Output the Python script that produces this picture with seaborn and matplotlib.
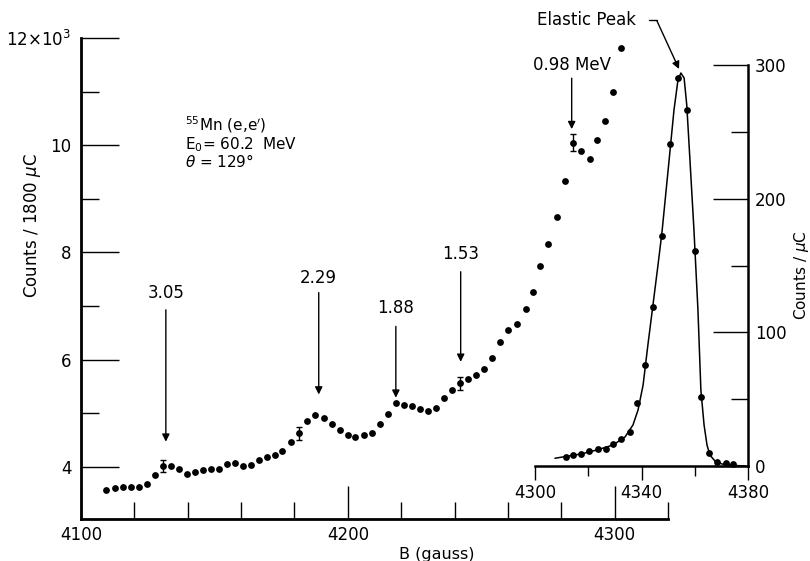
import matplotlib.pyplot as plt
import seaborn as sns
from matplotlib.ticker import MultipleLocator
from matplotlib.lines import Line2D

# main spectrum: magnetic field (gauss) and counts per 1800 uC (in thousands)
main_b = [4109.4, 4112.7, 4115.6, 4118.6, 4121.7, 4124.8, 4127.7, 4130.8, 4133.6, 4136.7,
          4139.7, 4142.8, 4145.8, 4148.7, 4151.6, 4154.7, 4157.7, 4160.7, 4163.7, 4166.8,
          4169.8, 4172.7, 4175.5, 4178.7, 4181.6, 4184.8, 4187.8, 4190.9, 4193.9, 4196.9,
          4199.9, 4202.7, 4205.9, 4209.1, 4212.1, 4215.1, 4218.0, 4221.0, 4224.0, 4227.0,
          4230.1, 4233.1, 4236.2, 4239.2, 4241.9, 4245.2, 4247.9, 4250.9, 4254.0, 4257.2,
          4260.2, 4263.3, 4266.6, 4269.3, 4272.2, 4275.0, 4278.3, 4281.4, 4284.4, 4287.5,
          4290.7, 4293.3, 4296.4, 4299.3, 4302.4]
main_counts = [3.56, 3.60, 3.63, 3.62, 3.63, 3.69, 3.84, 4.01, 4.01, 3.96,
               3.875, 3.91, 3.94, 3.96, 3.96, 4.06, 4.08, 4.02, 4.03, 4.12,
               4.18, 4.23, 4.29, 4.46, 4.63, 4.85, 4.97, 4.91, 4.80, 4.69,
               4.59, 4.55, 4.60, 4.64, 4.80, 4.98, 5.19, 5.16, 5.13, 5.08,
               5.04, 5.09, 5.28, 5.44, 5.56, 5.64, 5.72, 5.82, 6.04, 6.33,
               6.56, 6.67, 6.95, 7.26, 7.75, 8.16, 8.66, 9.34, 10.05, 9.90,
               9.75, 10.10, 10.46, 11.00, 11.82]

# points shown with error bars
err_b = [4130.8, 4181.6, 4241.9, 4284.4]
err_counts = [4.01, 4.63, 5.56, 10.05]
err_size = [0.11, 0.12, 0.12, 0.16]

# excitation energy markers (MeV)
level_labels = ["3.05", "2.29", "1.88", "1.53", "0.98 MeV"]
level_b = [4131.8, 4189.1, 4218.0, 4242.3, 4283.9]
level_tip = [4.47, 5.35, 5.29, 5.96, 10.30]
level_tail = [6.93, 7.25, 6.62, 7.64, 11.25]
level_text = [7.07, 7.36, 6.79, 7.81, 11.33]

# elastic peak inset: counts per uC
peak_b = [4311.5, 4314.3, 4317.3, 4320.4, 4323.5, 4326.6, 4329.3, 4332.4, 4335.6, 4338.3,
          4341.3, 4344.4, 4347.6, 4350.7, 4353.8, 4357.0, 4360.1, 4362.5, 4365.5, 4368.4,
          4371.6, 4374.5]
peak_counts = [6.7, 8.0, 9.0, 11.2, 12.7, 12.5, 16.2, 20.0, 25.1, 46.8,
               75.7, 119.2, 172.3, 241.0, 290.5, 266.3, 161.2, 51.8, 9.9, 3.0,
               1.9, 1.5]

# drawn fit line through the elastic peak
fit_b = [4307.5, 4311.5, 4317.3, 4323.3, 4329.3, 4333.8, 4336.8, 4338.7, 4340.6, 4342.4,
         4344.3, 4346.2, 4347.7, 4350.0, 4352.2, 4353.7, 4354.8, 4356.0, 4357.0, 4358.2,
         4359.7, 4361.2, 4362.3, 4363.5, 4364.6, 4365.7, 4367.6, 4370.2, 4375.1, 4379.2]
fit_counts = [5.8, 7.1, 9.0, 12.0, 15.7, 21.7, 30.7, 41.9, 60.6, 90.5,
              120.4, 150.4, 175.1, 221.4, 266.3, 288.8, 294.0, 290.3, 270.1, 228.9,
              176.6, 116.7, 56.9, 30.7, 15.7, 8.2, 3.7, 1.5, 0.4, 0.0]

W, H = 810, 561


def main():
    sns.set_theme(style="ticks")
    plt.rcParams['font.family'] = ['DejaVu Sans']
    plt.rcParams['mathtext.fontset'] = 'dejavusans'
    for key in ['text.color', 'axes.labelcolor', 'xtick.color', 'ytick.color',
                'axes.edgecolor']:
        plt.rcParams[key] = 'black'

    fig = plt.figure(figsize=(W / 100, H / 100), dpi=100)

    # main spectrum
    ax = fig.add_axes([81 / W, 42 / H, (668 - 81) / W, (519 - 38) / H])
    sns.scatterplot(x=main_b, y=main_counts, ax=ax, color='black', s=24,
                    edgecolor='black', linewidth=0, zorder=3)
    ax.errorbar(err_b, err_counts, yerr=err_size, fmt='none', ecolor='black',
                elinewidth=1, capsize=2.5, capthick=1)
    ax.set_xlim(4100, 4320)
    ax.set_ylim(3.028, 12)
    ax.spines[['top', 'right']].set_visible(False)
    ax.spines[['left', 'bottom']].set_linewidth(2)
    ax.set_xticks([4100, 4200, 4300])
    ax.xaxis.set_minor_locator(MultipleLocator(20))
    ax.set_yticks([4, 6, 8, 10, 12])
    ax.set_yticklabels(['4', '6', '8', '10', r'12$\times$10$^3$'])
    ax.yaxis.set_minor_locator(MultipleLocator(1))
    ax.tick_params(axis='x', which='major', direction='in', length=24, width=1,
                   pad=5, labelsize=12)
    ax.tick_params(axis='x', which='minor', direction='in', length=12, width=1)
    ax.tick_params(axis='y', which='major', direction='in', length=27, width=1,
                   pad=7, labelsize=12)
    ax.tick_params(axis='y', which='minor', direction='in', length=13, width=1)
    ax.set_xlabel('B (gauss)', fontsize=11.5)
    ax.xaxis.set_label_coords((437 - 81) / (668 - 81), -0.058)
    ax.set_ylabel(r'Counts / 1800 $\mu$C', fontsize=12)
    ax.yaxis.set_label_coords(-0.065, 0.611)

    ax.text(4139, 10.38, r'$^{55}$Mn (e,e$^{\prime}$)', fontsize=11, va='center')
    ax.text(4139, 10.02, r'E$_0$= 60.2  MeV', fontsize=11, va='center')
    ax.text(4139, 9.70, r'$\theta$ = 129$\degree$', fontsize=11, va='center')

    for lab, b, tip, tail, ty in zip(level_labels, level_b, level_tip, level_tail, level_text):
        ax.annotate('', xy=(b, tip), xytext=(b, tail),
                    arrowprops=dict(arrowstyle='-|>', color='black', lw=1,
                                    mutation_scale=11, shrinkA=0, shrinkB=0))
        ax.text(b, ty, lab, ha='center', va='bottom', fontsize=12)

    # elastic peak inset
    ax2 = fig.add_axes([535 / W, (H - 466) / H, (748 - 535) / W, (466 - 65) / H])
    ax2.patch.set_visible(False)
    sns.lineplot(x=fit_b, y=fit_counts, ax=ax2, color='black', lw=1.1, sort=False)
    sns.scatterplot(x=peak_b, y=peak_counts, ax=ax2, color='black', s=24,
                    edgecolor='black', linewidth=0, zorder=3, clip_on=False)
    ax2.set_xlim(4300, 4380)
    ax2.set_ylim(0, 300)
    ax2.spines[['top', 'left']].set_visible(False)
    ax2.spines[['right', 'bottom']].set_linewidth(1.8)
    ax2.yaxis.tick_right()
    ax2.yaxis.set_label_position('right')
    ax2.set_xticks([4300, 4340, 4380])
    ax2.xaxis.set_minor_locator(MultipleLocator(20))
    ax2.set_yticks([0, 100, 200, 300])
    ax2.yaxis.set_minor_locator(MultipleLocator(50))
    ax2.tick_params(axis='x', which='major', direction='out', length=10, width=1,
                    pad=3, labelsize=12)
    ax2.tick_params(axis='x', which='minor', direction='out', length=7, width=1)
    ax2.tick_params(axis='y', which='major', direction='in', length=25, width=1,
                    pad=5, labelsize=12)
    ax2.tick_params(axis='y', which='minor', direction='in', length=12, width=1)
    ax2.set_ylabel(r'Counts / $\mu$C', fontsize=11)
    ax2.yaxis.set_label_coords(1.205, 0.476)

    fig.text(537 / W, (H - 20) / H, 'Elastic Peak', ha='left', va='center', fontsize=12)
    fig.add_artist(Line2D([649 / W, 657 / W], [(H - 20) / H, (H - 20) / H],
                          color='black', lw=1))
    ax2.annotate('', xy=(4354.1, 297), xytext=(657 / W, (H - 21) / H),
                 textcoords='figure fraction',
                 arrowprops=dict(arrowstyle='-|>', color='black', lw=1,
                                 mutation_scale=11, shrinkA=0, shrinkB=0))

    fig.savefig('out.png', dpi=100)


if __name__ == "__main__":
    main()
